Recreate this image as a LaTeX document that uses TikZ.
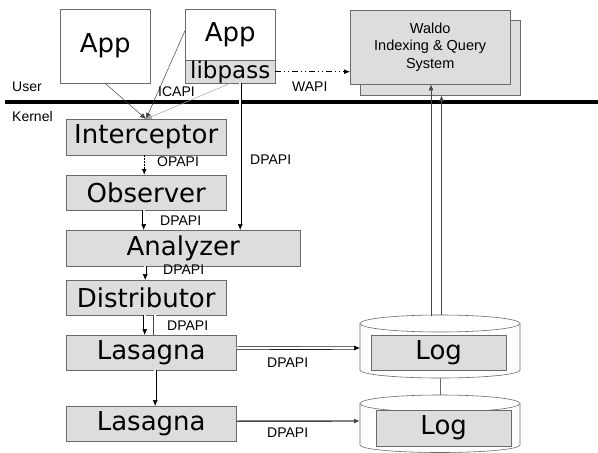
\documentclass[tikz,border=0pt]{standalone}
\usepackage{fontspec}
\setmainfont{Liberation Sans}
\newfontfamily\bigfont{DejaVu Sans}
\usetikzlibrary{arrows.meta}
\definecolor{boxfill}{HTML}{DDDDDD}
\definecolor{boxline}{HTML}{6A6A6A}
\definecolor{thin}{HTML}{444444}
\begin{document}
\begin{tikzpicture}[x=1pt,y=-1pt,
  box/.style={draw=boxline, fill=boxfill, inner sep=0pt, anchor=north west, font=\bigfont\fontsize{26}{26}\selectfont},
  wbox/.style={box, fill=white},
  lbl/.style={font=\fontsize{14}{14}\selectfont, inner sep=0pt, anchor=west},
  arr/.style={-{Latex[length=6pt,width=5pt]}, draw=black},
  dbl/.style={double=white, double distance=2.2pt, line width=0.6pt, draw=thin},
  cyl/.style={draw=boxline, fill=white, line width=0.6pt}
]
\useasboundingbox (0,0) rectangle (598,453);

% user/kernel separator
\coordinate (sepl) at (5,102);
\coordinate (sepr) at (598,102);
\draw[line width=4pt] (sepl) -- (sepr);
\node[lbl] (user) at (12,87) {User};
\node[lbl] (kernel) at (12,116) {Kernel};

% Waldo
\node[box, minimum width=160pt, minimum height=75pt] (wback) at (360,20) {};
\node[box, minimum width=160pt, minimum height=74pt, align=center,
      font=\fontsize{14.5}{17.5}\selectfont] (wfront) at (350,10) {Waldo\\Indexing \& Query\\System};

% apps
\node[wbox, minimum width=90pt, minimum height=74pt] (app1) at (60,9) {App};
\node[wbox, minimum width=90pt, minimum height=51pt] (app2) at (185,9) {App};
\node[box, minimum width=90pt, minimum height=23pt, font=\bigfont\fontsize{23}{23}\selectfont] (lib) at (185,60) {libpass};

% kernel stack
\node[box, minimum width=160pt, minimum height=36pt] (int) at (66,119) {Interceptor};
\node[box, minimum width=160pt, minimum height=35pt] (obs) at (66,175) {Observer};
\node[box, minimum width=234pt, minimum height=36pt] (ana) at (66,230) {Analyzer};
\node[box, minimum width=160pt, minimum height=35pt] (dist) at (66,280) {Distributor};
\node[box, minimum width=170pt, minimum height=35pt] (las1) at (66,335) {Lasagna};
\node[box, minimum width=170pt, minimum height=35pt] (las2) at (66,406) {Lasagna};

% cylinders
\draw[cyl] (360,323.5) -- (360,370) arc[start angle=180,end angle=360,x radius=80pt,y radius=8pt]
  -- (520,323.5) arc[start angle=0,end angle=180,x radius=80pt,y radius=8.5pt] -- cycle;
\draw[cyl, fill=none] (360,323.5) arc[start angle=180,end angle=360,x radius=80pt,y radius=8.5pt];
\draw[cyl] (360,403.5) -- (360,445) arc[start angle=180,end angle=360,x radius=80pt,y radius=7.5pt]
  -- (520,403.5) arc[start angle=0,end angle=180,x radius=80pt,y radius=8.5pt] -- cycle;
\draw[cyl, fill=none] (360,403.5) arc[start angle=180,end angle=360,x radius=80pt,y radius=8.5pt];
\node[box, minimum width=135pt, minimum height=35pt] (log1) at (371,335) {Log};
\node[box, minimum width=135pt, minimum height=36pt] (log2) at (376,410) {Log};

\coordinate (c1b) at (440,378);
\coordinate (c2t) at (440,395);
\draw[draw=boxline, line width=0.6pt] (c1b) -- (c2t);

% Log -> Waldo
\coordinate (up1) at (431,315.5);
\coordinate (up2) at (441.5,315);
\draw[arr, draw=thin, line width=0.6pt] (up1) -- (up1 |- wfront.south);
\draw[arr, draw=thin, line width=0.6pt] (up2) -- (up2 |- wback.south);

% ICAPI
\coordinate (ic) at (146,119);
\draw[arr, draw=thin, line width=0.5pt] (app1.south) -- (ic);
\draw[arr, draw=thin, line width=0.5pt] ([yshift=4pt]app2.west) -- (ic);
\draw[arr, draw=gray!70, line width=0.5pt] (lib.south) -- (ic);
\node[lbl] (icapi) at (158,92) {ICAPI};

% WAPI
\draw[arr, line width=0.8pt, dash pattern=on 6pt off 3pt on 1pt off 3pt on 1pt off 3pt]
  (lib.east) -- (lib.east -| wfront.west);
\node[lbl] (wapi) at (292,87) {WAPI};

% OPAPI
\coordinate (op1) at ([xshift=-2pt]int.south);
\draw[arr, line width=1.1pt, dash pattern=on 1.5pt off 1.5pt] (op1) -- (op1 |- obs.north);
\node[lbl] (opapi) at (157,162) {OPAPI};

% libpass -> Analyzer
\coordinate (ld) at ([xshift=10pt]lib.south);
\draw[dbl, arr] (ld) -- (ld |- ana.north);
\node[lbl] (dp0) at (250,160) {DPAPI};

% Observer -> Analyzer
\coordinate (oa) at ([xshift=-2.5pt]obs.south);
\draw[dbl, arr] (oa) -- (oa |- ana.north);
\node[lbl] (dp1) at (160,221) {DPAPI};

% Analyzer -> Distributor
\coordinate (ad) at ([xshift=-1pt]dist.north);
\draw[dbl, arr] (ad |- ana.south) -- (ad);
\node[lbl] (dp2) at (163,270) {DPAPI};

% Distributor -> Lasagna
\coordinate (dl) at ([xshift=-1.5pt]dist.south);
\draw[dbl, arr] (dl) -- (dl |- las1.north);
\coordinate (dl2) at ([xshift=8.5pt]dist.south);
\draw[dbl] (dl2) -- (dl2 |- las1.north);
\node[lbl] (dp3) at (167,326) {DPAPI};

% Lasagna -> Lasagna
\coordinate (ll) at ([xshift=4pt]las1.south);
\draw[dbl, arr] (ll) -- (ll |- las2.north);

% Lasagna -> Log
\coordinate (lg1) at ([yshift=4.5pt]las1.east);
\coordinate (cy1) at (360,348);
\draw[dbl, arr] (lg1) -- (cy1);
\node[lbl] (dp4) at (267,363) {DPAPI};
\coordinate (lg2) at ([yshift=2.5pt]las2.east);
\coordinate (cy2) at (360,421);
\draw[arr, line width=1.4pt, draw=thin] (lg2) -- (cy2);
\node[lbl] (dp5) at (267,433) {DPAPI};
\end{tikzpicture}
\end{document}
